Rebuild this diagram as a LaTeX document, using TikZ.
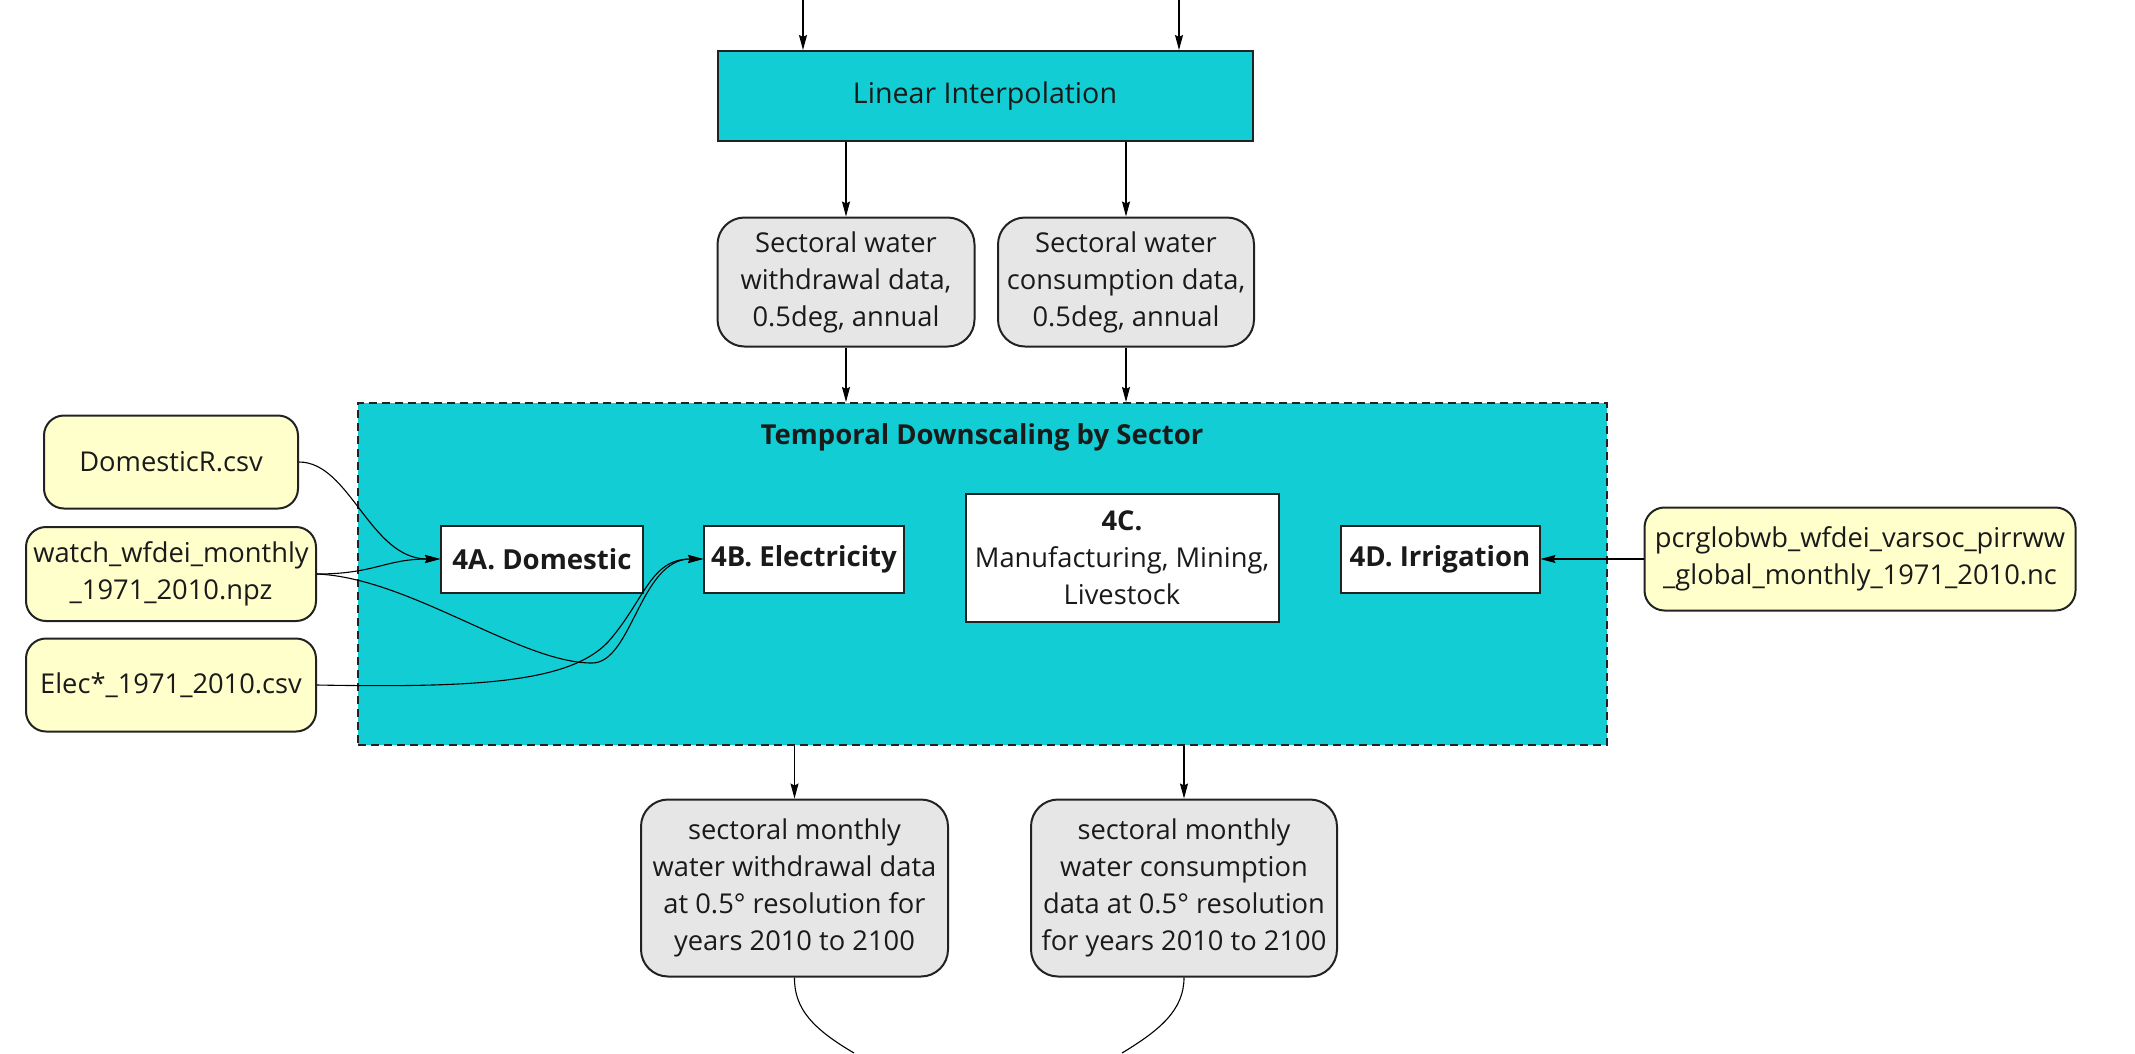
\documentclass[tikz,border=0pt]{standalone}
\usepackage{fontspec}
\setmainfont{Open Sans}
\usetikzlibrary{arrows.meta}
\definecolor{cyanfill}{HTML}{13CDD4}
\definecolor{yellowfill}{HTML}{FFFFCC}
\definecolor{grayfill}{HTML}{E6E6E6}
\definecolor{edgecol}{HTML}{222222}
\definecolor{txt}{HTML}{1A1A1A}
\begin{document}
\begin{tikzpicture}[x=1pt,y=-1pt,
  font=\fontsize{27.3}{37}\selectfont, text=txt,
  box/.style={draw=edgecol, line width=2pt, align=center, inner sep=0pt},
  procbox/.style={box, fill=cyanfill},
  graybox/.style={box, fill=grayfill, rounded corners=27pt},
  yelbox/.style={box, fill=yellowfill, rounded corners=20pt},
  subbox/.style={box, fill=white, font=\fontsize{27.6}{37}\selectfont\bfseries},
  clusterbox/.style={draw=edgecol, line width=2pt, dash pattern=on 8pt off 5pt, fill=cyanfill, inner sep=0pt},
  conn/.style={draw=black, line width=1.1pt},
  arr/.style={conn, -{Stealth[length=15pt,width=8pt,inset=2pt]}}
]
\useasboundingbox (0,0) rectangle (2135,1053);

% cluster
\node[clusterbox, minimum width=1249pt, minimum height=342pt] (cl) at (982.5,574) {};
\node[font=\fontsize{27.5}{37}\selectfont\bfseries] (title) at (982,437) {Temporal Downscaling by Sector};

% top
\coordinate (t1) at (803,0);
\coordinate (t2) at (1179,0);
\node[procbox, minimum width=535pt, minimum height=90pt, font=\fontsize{28.6}{37}\selectfont] (li) at (985,96) {Linear Interpolation};

\node[graybox, minimum width=257pt, minimum height=129pt] (g1) at (846,282) {Sectoral water\\withdrawal data,\\0.5deg, annual};
\node[graybox, minimum width=256pt, minimum height=129pt] (g2) at (1126,282) {Sectoral water\\consumption data,\\0.5deg, annual};

% sub boxes
\node[subbox, minimum width=202pt, minimum height=67pt] (d4a) at (542,559) {4A. Domestic};
\node[subbox, minimum width=200pt, minimum height=67pt] (d4b) at (804,559) {4B. Electricity};
\node[box, fill=white, minimum width=313pt, minimum height=128pt] (d4c) at (1122,558) {\textbf{4C.}\\Manufacturing, Mining,\\Livestock};
\node[subbox, minimum width=199pt, minimum height=67pt] (d4d) at (1440,559) {4D. Irrigation};

% inputs
\node[yelbox, minimum width=254pt, minimum height=93pt] (dom) at (171,462) {DomesticR.csv};
\node[yelbox, minimum width=290pt, minimum height=94pt] (wat) at (171,574) {watch\_wfdei\_monthly\\\_1971\_2010.npz};
\node[yelbox, minimum width=290pt, minimum height=93pt] (ele) at (171,685) {Elec*\_1971\_2010.csv};
\node[yelbox, minimum width=431pt, minimum height=103pt] (pcr) at (1860,559) {pcrglobwb\_wfdei\_varsoc\_pirrww\\\_global\_monthly\_1971\_2010.nc};

% outputs
\node[graybox, minimum width=307pt, minimum height=177pt] (o1) at (794.5,888) {sectoral monthly\\water withdrawal data\\at 0.5° resolution for\\years 2010 to 2100};
\node[graybox, minimum width=306pt, minimum height=177pt] (o2) at (1184,888) {sectoral monthly\\water consumption\\data at 0.5° resolution\\for years 2010 to 2100};

\coordinate (e1) at (854,1053);
\coordinate (e2) at (1122,1053);

% connectors
\draw[arr] (t1) -- (t1 |- li.north);
\draw[arr] (t2) -- (t2 |- li.north);
\draw[arr] (li.south -| g1.north) -- (g1.north);
\draw[arr] (li.south -| g2.north) -- (g2.north);
\draw[arr] (g1.south) -- (g1.south |- cl.north);
\draw[arr] (g2.south) -- (g2.south |- cl.north);
\draw[arr] (o1.north |- cl.south) -- (o1.north);
\draw[arr] (o2.north |- cl.south) -- (o2.north);

\draw[arr] (dom.east) .. controls (350,462) and (370,559) .. (d4a.west);
\draw[arr] (wat.east) .. controls (375,574) and (385,559) .. (d4a.west);
\draw[arr] (wat.east) .. controls (410,578) and (520,663) .. (592,663) .. controls (632,663) and (640,559) .. (d4b.west);
\draw[arr] (ele.east) .. controls (480,688) and (570,682) .. (608,642) .. controls (645,600) and (650,559) .. (d4b.west);
\draw[arr] (pcr.west) -- (d4d.east);

\draw[conn] (o1.south) .. controls (794,1010) and (815,1030) .. (e1);
\draw[conn] (o2.south) .. controls (1184,1010) and (1160,1030) .. (e2);
\end{tikzpicture}
\end{document}
